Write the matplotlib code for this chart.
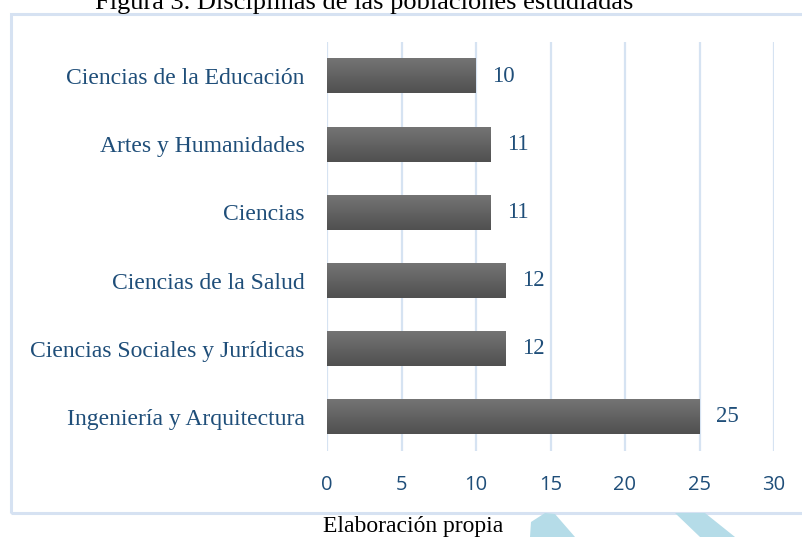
import numpy as np
import matplotlib
matplotlib.use("Agg")
import matplotlib.pyplot as plt
from matplotlib.patches import Rectangle, Polygon

# datos (de abajo hacia arriba)
categorias = ["Ingeniería y Arquitectura", "Ciencias Sociales y Jurídicas",
              "Ciencias de la Salud", "Ciencias", "Artes y Humanidades",
              "Ciencias de la Educación"]
valores = [25, 12, 12, 11, 11, 10]
ticks_x = [0, 5, 10, 15, 20, 25, 30]

azul = "#1F4E79"
serif = ["Liberation Serif", "DejaVu Serif"]

W, H = 802, 537
fig = plt.figure(figsize=(W / 100, H / 100), dpi=100)

# marco exterior
fig.patches.append(Rectangle((10.5 / W, 1 - 513 / H), 1.0, (513 - 13.5) / H,
                             transform=fig.transFigure, fill=False,
                             edgecolor="#D6E2F2", linewidth=2.2))

# adornos de la pagina
for pts in ([(530, 537), (531, 522), (545, 513), (555, 514), (575, 537)],
            [(675, 513), (705, 513), (735, 537), (700, 537)]):
    fig.patches.append(Polygon([(x / W, 1 - y / H) for x, y in pts],
                               transform=fig.transFigure, closed=True,
                               facecolor="#B5DCE8", edgecolor="none"))

ax = fig.add_axes([327 / W, 1 - 451 / H, (774 - 327) / W, (451 - 42) / H])

y = np.arange(len(categorias))
barras = ax.barh(y, valores, height=0.51, color="none", zorder=3)
grad = np.linspace(0, 1, 64).reshape(-1, 1)
cmap = matplotlib.colors.LinearSegmentedColormap.from_list("g", ["#505050", "#747474"])
for b in barras:
    x0, y0, w, h = b.get_x(), b.get_y(), b.get_width(), b.get_height()
    ax.imshow(grad, extent=(x0, x0 + w, y0, y0 + h), aspect="auto",
              cmap=cmap, origin="lower", zorder=3, interpolation="bicubic")

for yi, v in zip(y, valores):
    ax.text(v + 1.1, yi, str(v), va="center", ha="left", fontsize=16.5,
            color=azul, family=serif)

ax.set_xlim(0, 30)
ax.set_ylim(-0.5, len(categorias) - 0.5)
ax.set_xticks(ticks_x)
ax.set_yticks(y)
ax.set_yticklabels(categorias, family=serif, fontsize=17, color=azul)
ax.tick_params(axis="y", length=0, pad=16)
ax.tick_params(axis="x", length=0, pad=17.5, labelsize=14.5, labelcolor=azul)
for lab in ax.get_xticklabels():
    lab.set_family(["Open Sans", "DejaVu Sans"])
ax.grid(axis="x", color="#D6E3F2", linewidth=1.6, zorder=0)
for s in ax.spines.values():
    s.set_visible(False)

fig.text(364 / W, 1 - 9 / H, "Figura 3. Disciplinas de las poblaciones estudiadas",
         ha="center", va="baseline", fontsize=19, family=serif, color="black")
fig.text(323 / W, 1 - 532 / H, "Elaboración propia", ha="left", va="baseline",
         fontsize=17, family=serif, color="black")

fig.savefig("out.png", dpi=100)
